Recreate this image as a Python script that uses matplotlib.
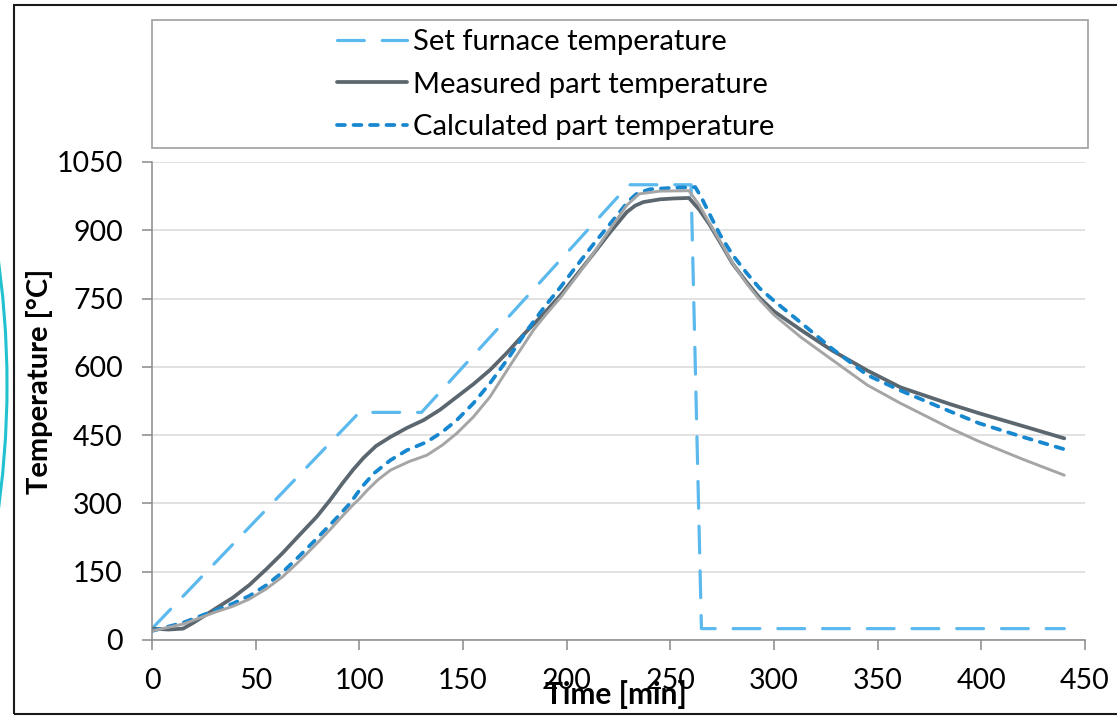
import matplotlib
matplotlib.use("Agg")
import matplotlib.pyplot as plt
from matplotlib.patches import Rectangle, Arc
from matplotlib.transforms import IdentityTransform

plt.rcParams['font.family'] = ['Lato', 'DejaVu Sans']

# ---------------- data ----------------
set_x = [0, 100, 130, 230, 260, 265, 440]
set_y = [25, 500, 500, 1000, 1000, 25, 25]

meas_x = [0, 8, 15, 20, 31, 39, 47, 55, 63, 71, 79.5, 86, 92, 97, 102, 108, 115, 123, 131,
          139, 147, 155, 163, 171, 179, 188, 197, 205, 213, 221, 229, 233, 237, 245, 252, 259,
          264, 269, 275, 280, 287, 293, 300, 313, 328, 345, 361, 385, 399, 420, 440]
meas_y = [25, 23, 25, 38, 70, 93, 121, 155, 191, 230, 271, 308, 345, 374, 400, 426, 446, 466, 483,
          506, 534, 562, 593, 630, 670, 712, 757, 803, 849, 896, 940, 954, 962, 968, 970, 971,
          945, 912, 866, 827, 785, 752, 722, 681, 636, 592, 555, 518, 498, 470, 443]

calc_x = [0, 15, 31, 39, 47, 55, 63, 71, 79.5, 88, 95.5, 101, 107, 115, 123, 132.5, 140, 147,
          155, 163, 172, 181, 189, 197, 205, 213, 222, 230, 234, 240, 250, 262, 265, 268, 274,
          280, 287, 293, 300, 313, 328, 345, 361, 385, 399, 420, 440]
calc_y = [20, 38, 66, 80, 97, 120, 149, 184, 223, 263, 300, 335, 366, 395, 417, 435, 457, 483,
          520, 564, 620, 681, 730, 775, 823, 870, 920, 965, 981, 990, 993, 995, 972, 944, 890,
          846, 805, 773, 745, 697, 640, 582, 548, 502, 476, 446, 419]

light_x = [0, 15, 31, 39, 47, 55, 63, 71, 79.5, 86, 92, 97, 100, 104, 109, 115, 124, 132.6, 140,
           147, 155, 163, 173, 184, 190, 197, 205, 213, 221, 229, 235, 245, 259, 264, 269, 275,
           280, 287, 293, 300, 313, 328.5, 345, 361, 385, 399, 420, 440]
light_y = [20, 35, 62, 74, 90, 112, 139, 173, 212, 243, 273, 297, 310, 330, 352, 373, 392, 406, 428,
           454, 490, 534, 605, 681, 715, 752, 800, 850, 903, 955, 980, 986, 987, 955, 915, 868,
           828, 782, 748, 714, 665, 614, 560, 520, 465, 436, 397, 362]

labels = ["Set furnace temperature", "Measured part temperature", "Calculated part temperature"]
x_ticks = list(range(0, 451, 50))
y_ticks = list(range(0, 1051, 150))

# ---------------- figure ----------------
W, H = 1117, 716
fig = plt.figure(figsize=(W / 100, H / 100), dpi=100)
fig.patch.set_facecolor('white')

def fx(px):
    return px / W

def fy(py):
    return 1 - py / H

ax = fig.add_axes([fx(152), fy(640), fx(1085) - fx(152), fy(162) - fy(640)])

l_set, = ax.plot(set_x, set_y, color='#5cb9ee', lw=2.3, dashes=(8.4, 5.6),
                 dash_capstyle='round', label=labels[0], zorder=3)
l_meas, = ax.plot(meas_x, meas_y, color='#5b666e', lw=2.7, solid_capstyle='round',
                  solid_joinstyle='round', label=labels[1], zorder=4)
l_calc, = ax.plot(calc_x, calc_y, color='#1787d0', lw=2.7, dashes=(2.1, 2.3),
                  dash_capstyle='round', label=labels[2], zorder=5)
ax.plot(light_x, light_y, color='#a5a5a5', lw=2.1, solid_capstyle='round',
        solid_joinstyle='round', zorder=6)

ax.set_xlim(0, 450)
ax.set_ylim(0, 1050)
ax.set_xticks(x_ticks)
ax.set_yticks(y_ticks)
ax.yaxis.grid(True, color='#d9d9d9', lw=1.1)
ax.set_axisbelow(True)
for s in ['top', 'right']:
    ax.spines[s].set_visible(False)
for s in ['left', 'bottom']:
    ax.spines[s].set_color('#898989')
    ax.spines[s].set_linewidth(1.1)
    ax.spines[s].set_zorder(7)
ax.tick_params(axis='both', direction='out', length=7, width=1.1, color='#898989',
               labelsize=20.5, labelcolor='black')
ax.tick_params(axis='y', pad=14)
ax.tick_params(axis='x', pad=13)

ax.set_xlabel("Time [min]", fontsize=21.5, fontweight='bold')
ax.xaxis.set_label_coords((616 - 152) / 933, (640 - 680) / 478)
ax.set_ylabel("Temperature [°C]", fontsize=21, fontweight='bold')
ax.yaxis.set_label_coords((53 - 152) / 933, (640 - 381) / 478)

# legend box
fig.patches.append(Rectangle((fx(152), fy(148)), fx(1088) - fx(152), fy(20) - fy(148),
                             transform=fig.transFigure, fill=False, edgecolor='#a6a6a6',
                             lw=1.3, zorder=1))
fig.legend(handles=[l_set, l_meas, l_calc], labels=labels, loc='upper left',
           bbox_to_anchor=(fx(337), fy(29)), frameon=False, fontsize=21,
           handlelength=2.4, handletextpad=0.2, labelspacing=0.57, borderpad=0,
           borderaxespad=0)

# figure border
fig.patches.append(Rectangle((fx(14), fy(714)), fx(1125) - fx(14), fy(5) - fy(714),
                             transform=fig.transFigure, fill=False, edgecolor='#1a1a1a',
                             lw=1.5, zorder=1))

# cyan arc at left edge (display pixel coords, origin bottom-left)
R = 900
fig.patches.append(Arc((7 - R, H - 385), 2 * R, 2 * R, theta1=-9, theta2=9,
                       transform=IdentityTransform(), edgecolor='#22c1cf', lw=2.2))

fig.savefig("out.png", dpi=100, facecolor='white')
